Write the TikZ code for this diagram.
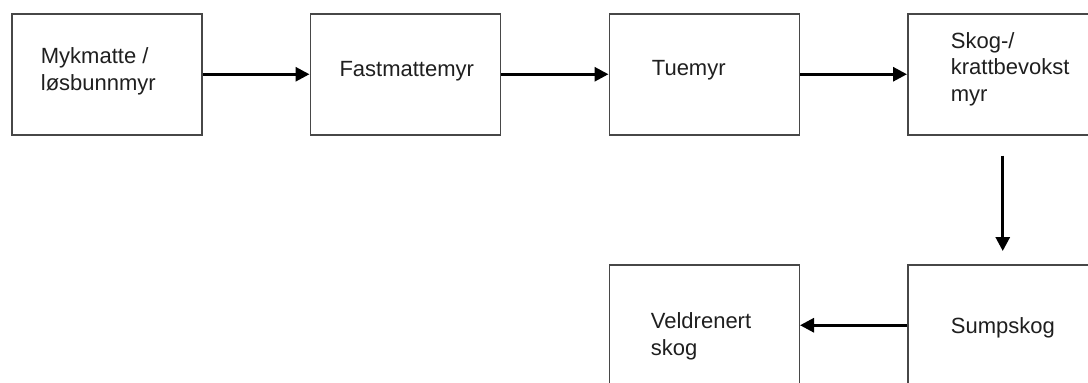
\documentclass[tikz,border=0pt]{standalone}
\usepackage{fontspec}
\setmainfont{Liberation Sans}
\usetikzlibrary{arrows.meta}
\tikzset{
  stagebox/.style={draw=black!72, line width=1.5pt, minimum width=190pt, minimum height=121pt, inner sep=0pt, anchor=north west},
  stagetext/.style={anchor=base west, inner sep=0pt, align=left, text=black!88, font=\fontsize{22}{26.8}\selectfont},
  flow/.style={line width=3pt, -{Triangle[length=14pt,width=14pt]}, black}
}
\begin{document}
\begin{tikzpicture}[x=1pt,y=-1pt]
\useasboundingbox (0,0) rectangle (1088,383);
\clip (0,0) rectangle (1088,383);
\fill[white] (0,0) rectangle (1088,383);
% boxes
\node[stagebox] (b1) at (11,13) {};
\node[stagebox] (b2) at (309.5,13) {};
\node[stagebox] (b3) at (608.5,13) {};
\node[stagebox] (b4) at (907,13) {};
\node[stagebox] (b5) at (608.5,264) {};
\node[stagebox] (b6) at (907,264) {};
% texts (anchor at baseline of last line)
\node[stagetext] (t1) at (40.7,90.7) {Mykmatte /\\løsbunnmyr};
\node[stagetext] (t2) at (339.3,76) {Fastmattemyr};
\node[stagetext] (t3) at (651.7,75.7) {Tuemyr};
\node[stagetext] (t4) at (950.7,101.7) {Skog-/\\krattbevokst\\myr};
\node[stagetext] (t5) at (650.7,355) {Veldrenert\\skog};
\node[stagetext] (t6) at (950.7,333.3) {Sumpskog};
% connectors
\draw[flow] (b1.east) -- (b2.west);
\draw[flow] (b2.east) -- (b3.west);
\draw[flow] (b3.east) -- (b4.west);
\draw[flow] ([yshift=-20pt]b4.south) -- ([yshift=13pt]b6.north -| b4.south);
\draw[flow] (b6.west) -- (b5.east);
\end{tikzpicture}
\end{document}
